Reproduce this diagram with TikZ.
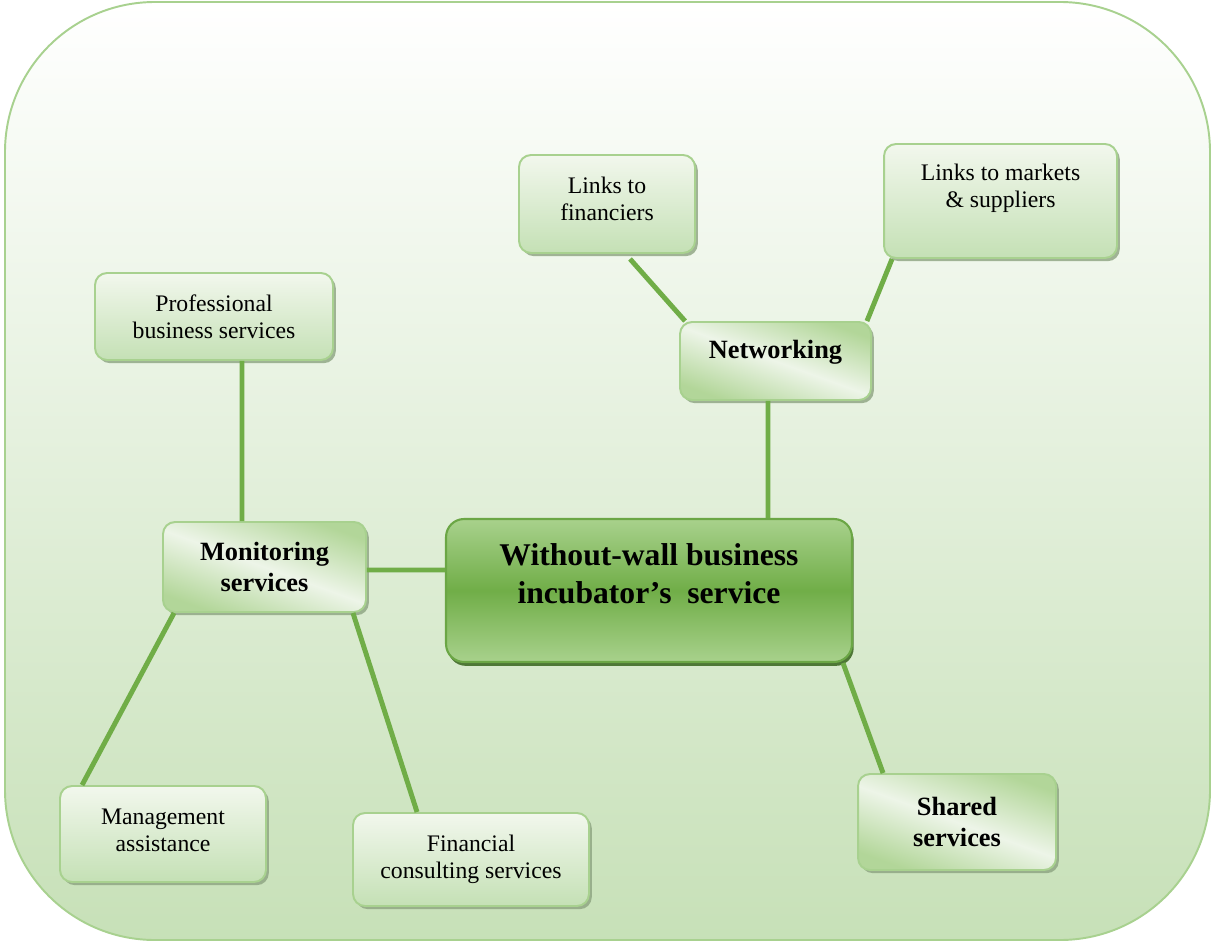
\documentclass[tikz,border=0pt]{standalone}
\usepackage{fontspec}
\setmainfont{Liberation Serif}
\usepackage{xcolor}
\usepackage{tikz}
\usetikzlibrary{shadows, calc}
\definecolor{linegreen}{rgb}{0.44, 0.68, 0.28}
\definecolor{boxborder}{rgb}{0.66, 0.82, 0.56}
\definecolor{boxtop}{rgb}{0.95, 0.97, 0.93}
\definecolor{boxbot}{rgb}{0.77, 0.88, 0.71}
\definecolor{boldmid}{rgb}{0.93, 0.96, 0.91}
\definecolor{boldedge}{rgb}{0.70, 0.84, 0.60}
\definecolor{maintop}{rgb}{0.66, 0.82, 0.55}
\definecolor{mainmid}{rgb}{0.44, 0.68, 0.28}
\definecolor{mainborder}{rgb}{0.42, 0.65, 0.27}
\definecolor{mainshadow}{rgb}{0.25, 0.42, 0.15}
\definecolor{shadowc}{rgb}{0.55, 0.64, 0.50}
\definecolor{bgbot}{rgb}{0.78, 0.88, 0.72}

\begin{document}
\begin{tikzpicture}[x=0.02cm, y=-0.02cm]
			\tikzstyle{subbox}=[rectangle, rounded corners=0.24cm, draw=boxborder, line width=1.1pt, top color=boxtop, bottom color=boxbot, align=center, font=\fontsize{13.5}{15.5}\selectfont, drop shadow={shadow xshift=1.6pt, shadow yshift=-1.8pt, fill=shadowc, opacity=0.8}]
			\tikzstyle{boldbox}=[subbox, top color=boldedge, bottom color=boldedge, middle color=boldmid, shading angle=-20, font=\fontsize{15}{17.5}\selectfont\bfseries]
			\tikzstyle{mainbox}=[rectangle, rounded corners=0.36cm, draw=mainborder, line width=1.2pt, top color=maintop, bottom color=maintop, middle color=mainmid, drop shadow={shadow xshift=1pt, shadow yshift=-2.2pt, fill=mainshadow, opacity=0.9}]
			\tikzstyle{maintext}=[align=center, font=\fontsize{18}{21.5}\selectfont\bfseries]
			\tikzstyle{link}=[draw=linegreen, line width=2.8pt]
			%%
			\useasboundingbox (0,0) rectangle (1212,945);
			\draw [draw=boxborder, line width=1.1pt, top color=white, bottom color=bgbot, rounded corners=3cm] (5,2) rectangle (1210,940);
			%%
			\node (incub) at (649,590.5) [mainbox, minimum width=8.12cm, minimum height=2.86cm] {};
			\node (incubtxt) at (649,574) [maintext] {Without-wall business\\incubator’s\ \ service};
			%%
			\node (monit) at (264.5,567) [boldbox, minimum width=4.06cm, minimum height=1.80cm] {Monitoring\\services};
			\node (netw) at (775.5,361) [boldbox, minimum width=3.82cm, minimum height=1.56cm, text depth=13pt] {Networking};
			\node (shared) at (957,822) [boldbox, minimum width=3.96cm, minimum height=1.92cm] {Shared\\services};
			%%
			\node (linkfin) at (607,204) [subbox, minimum width=3.52cm, minimum height=1.96cm, text depth=5.6pt] {Links to\\financiers};
			\node (linkmkt) at (1000.5,201) [subbox, minimum width=4.66cm, minimum height=2.28cm, text depth=17pt] {Links to markets\\\& suppliers};
			\node (profserv) at (214,316.5) [subbox, minimum width=4.76cm, minimum height=1.74cm] {Professional\\business services};
			\node (mgmt) at (163,834) [subbox, minimum width=4.12cm, minimum height=1.92cm, text depth=4.5pt] {Management\\assistance};
			\node (fincons) at (471,859.5) [subbox, minimum width=4.72cm, minimum height=1.86cm] {Financial\\consulting services};
			
			\draw [link] ([yshift=-0.06cm]monit.east) -- ([yshift=0.41cm]incub.west);
			\draw [link] ([xshift=-0.45cm]monit.north) -- ([xshift=0.56cm]profserv.south);
			\draw [link] ([xshift=0.24cm]monit.south west) -- ([xshift=0.46cm]mgmt.north west);
			\draw [link] ([xshift=-0.28cm]monit.south east) -- ([xshift=1.3cm]fincons.north west);
			\draw [link] ([xshift=2.38cm]incub.north) -- ([xshift=-0.15cm]netw.south);
			\draw [link] ([xshift=0.12cm]netw.north west) -- ([xshift=0.46cm, yshift=-0.1cm]linkfin.south);
			\draw [link] ([xshift=-0.1cm]netw.north east) -- ([xshift=0.18cm]linkmkt.south west);
			\draw [link] ([xshift=-0.2cm]incub.south east) -- ([xshift=0.52cm]shared.north west);
\end{tikzpicture}
\end{document}
